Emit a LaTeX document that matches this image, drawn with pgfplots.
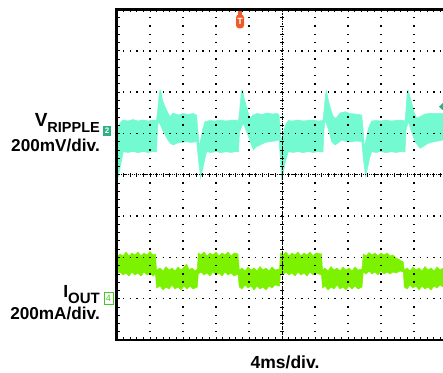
\documentclass[border=0pt]{standalone}
\usepackage{fontspec}
\setmainfont{Liberation Sans}
\usepackage{pgfplots}
\pgfplotsset{compat=1.18}
\usepgfplotslibrary{fillbetween}
\definecolor{vr}{RGB}{115,250,208}
\definecolor{io}{RGB}{125,242,0}
\definecolor{chtwo}{RGB}{46,176,134}
\definecolor{chfour}{RGB}{70,200,30}
\definecolor{trig}{RGB}{240,90,40}
\begin{document}
\begin{tikzpicture}
\begin{axis}[
  at={(0,0)}, anchor=south west,
  scale only axis, width=326pt, height=330.5pt,
  xmin=117, xmax=443, ymin=9.5, ymax=340, y dir=reverse,
  axis line style={draw=none},
  xtick={150,183,216,249,315,348,381,414},
  ytick={50.81,92.13,133.44,216.06,257.38,298.69},
  xticklabels={}, yticklabels={},
  major tick length=0pt,
  grid=major,
  x grid style={black, line width=1.4pt, dash pattern=on 1.4pt off 6.8625pt, dash phase=0.7pt},
  y grid style={black, line width=1.4pt, dash pattern=on 1.4pt off 5.2pt, dash phase=0.7pt},
  axis on top,
]
% V_RIPPLE upper envelope (screen units)
\addplot[name path=cu, draw=vr, line width=0.5pt] coordinates {
(117,140)(118,128)(120,123)(123,120)(128,121)(133,119.5)(138,121)(143,120)(148,121)(153,120)(156.5,120.5)
(157.5,112)(159,97)(160,90)(161,92)(162.5,100)(165,106.7)(168,113)(170,116.7)(173,113)(178,115)(183,113.5)(188,114.5)(193,113.5)(196.5,115)
(197.5,125)(199.3,146.7)(201,138)(203,128)(205,121.7)(210,120.5)(215,121)(220,120)(225,121)(230,120.5)(235,120)(238.5,121)
(239.5,112)(241,95)(242,90)(243,92)(244.5,100)(246.7,106.7)(248.5,114)(250,118.3)(253,115)(257,113.5)(262,114.5)(267,113)(272,114)(277,113.5)(279,115)
(280,125)(281,141.7)(283,133)(286,124)(288.3,120.5)(293,121)(298,120)(303,121)(308,120.5)(313,120)(318,121)(323,120.5)
(324,110)(325.5,95)(326.5,90.7)(328.3,100)(331,110)(333.3,116.7)(336,118.3)(340,113)(345,111.7)(350,113.5)(355,114)(361.7,115)
(363,128)(364.3,146.7)(366,140)(368.5,128)(371.7,121)(376,120.5)(381,121)(386,120)(391,121)(396,120.5)(401,120)(405,121)
(406,110)(407,95)(408,90)(409.5,95)(411.7,103.3)(414,112)(416.7,118.3)(420,116.7)(425,114)(431.7,113.3)(437,113.5)(443,113.3)
};
% V_RIPPLE lower envelope
\addplot[name path=cl, draw=vr, line width=0.5pt] coordinates {
(117,185)(118,178)(120,168)(122,158)(123.3,151.7)(128,152.5)(133,151.5)(138,152.7)(143,151.5)(148,152.5)(153,151.7)(156.5,152)
(157.5,130)(158.3,122)(160,124)(163,131)(166.7,138)(170,143)(173.3,145)(176.7,143.3)(181,142.5)(186.7,141.7)(191,142.5)(196.7,141.7)
(198.5,160)(200.7,178.3)(202,172)(203.3,166.7)(205,158)(206.7,151.7)(211,152.5)(216,151.5)(221,152.7)(226,151.7)(231,152.5)(236,151.5)(238.5,152)
(239.5,132)(243.3,123.3)(246,130)(249,138)(253.3,150)(256,147)(260,145)(265,142.5)(270,141.7)(275,141)(279,140)
(280.5,160)(281.7,180)(283,175)(285,163.3)(288.3,151.7)(293,152.5)(298,151.5)(303,152.7)(308,151.5)(313,152.5)(318,151.7)(323,152)
(324,130)(325,120)(328,128)(331.7,141.7)(335,145)(338,143)(341.7,140)(346,141.5)(351,142)(356,141)(361.7,141.7)
(363.5,160)(365.7,176.7)(367.5,168)(370,156.7)(371.7,151.7)(376,152.5)(381,151.5)(386,152.7)(391,151.7)(396,152.5)(401,151.5)(405,152)
(406,130)(408.3,121.7)(411,130)(415,141.7)(420,148.3)(424,146)(428.3,143.3)(433,142)(438,141)(443,140)
};
\addplot[vr] fill between[of=cu and cl];
% I_OUT upper envelope
\addplot[name path=gu, draw=io, line width=0.5pt] coordinates {
(117,257)(120,254)(123,256)(126,252)(129,256)(132,253)(135,255)(138,252)(141,256)(144,253)(147,255)(150,251.5)(153,255)(155.5,254)
(156.5,270)(160,268)(163,271)(166,266.7)(169,270)(172,268)(175,271)(178,267)(181,270)(184,267)(186.7,264)(189,270)(192,268)(195,271)(197.3,269)
(198.3,253)(201,255)(204,252)(207,256)(210,253)(213,255)(216,252)(219,256)(222,253)(225,255)(228,252)(231,256)(234,253)(238,254)
(239.3,270)(242,268)(245,271)(248,267)(251,270)(254,268)(257,271)(260,266.5)(263,270)(266,268)(269,271)(272,267)(275,270)(279.5,269)
(280.5,253)(283,255)(286,252)(289,256)(292,253)(295,255)(298,252)(301,256)(304,253)(307,255)(310,252)(313,256)(316,253)(321.5,254)
(322.5,270)(325,268)(328,271)(331,266.5)(334,270)(337,268)(340,271)(343,267)(346,270)(349,268)(352,271)(355,267)(358,270)(362,269)
(363.3,254)(366,256)(369,252.5)(372,255)(375,253)(378,256)(381,253)(384,255)(387,253)(390,256)(393,255)(396,258)(400,260)(403.3,262)
(404.3,270)(407,268)(410,271)(413,267)(416,270)(419,268)(422,271)(425,266.5)(428,270)(431,268)(434,271)(437,267)(440,270)(443,268)
};
% I_OUT lower envelope
\addplot[name path=gl, draw=io, line width=0.5pt] coordinates {
(117,274)(120,272)(123,275)(126,273)(129,276)(132,272)(135,275)(138,273)(141,276)(144,272)(147,275)(150,273)(153,276)(155.5,274)
(156.5,288)(160,286)(163,290)(166,287)(169,289)(172,285)(175,289)(178,287)(181,290)(184,286)(187,289)(190,286)(193,289)(197.3,287)
(198.3,274)(201,272)(204,275)(207,273)(210,276)(213,272)(216,275)(219,273)(222,276)(225,272)(228,275)(231,273)(234,276)(238,274)
(239.3,287)(242,289)(245,285)(248,288)(251,286)(254,290)(257,286)(260,289)(263,287)(266,290)(269,286)(272,288)(275,285)(279.5,286)
(280.5,273)(283,275)(286,272)(289,275)(292,273)(295,276)(298,272)(301,275)(304,273)(307,276)(310,272)(313,275)(316,273)(321.5,275)
(322.5,288)(325,286)(328,290)(331,287)(334,289)(337,285)(340,289)(343,287)(346,290)(349,286)(352,289)(355,286)(358,289)(362,287)
(363.3,272)(366,274)(369,271)(372,274)(375,272)(378,275)(381,271)(384,274)(387,272)(390,274)(393,272)(396,273)(400,271)(403.3,272)
(404.3,287)(407,289)(410,285)(413,288)(416,286)(419,290)(422,286)(425,289)(428,287)(431,290)(434,286)(437,288)(440,285)(443,287)
};
\addplot[io] fill between[of=gu and gl];
\end{axis}
% centre cross lines with fine ticks
\draw[black, line width=1pt, dash pattern=on 1.6pt off 0.9pt] (165pt,0pt) -- (165pt,330.5pt);
\draw[black, line width=1pt, dash pattern=on 1.2pt off 0.9pt] (0pt,165.25pt) -- (326pt,165.25pt);
\foreach \i in {1,...,39} {
  \draw[black, line width=0.8pt] (163pt,\i*8.2625pt) -- ++(4pt,0pt);
  \draw[black, line width=0.8pt] (0pt,\i*8.2625pt) -- ++(3pt,0pt);
}
\foreach \i in {1,...,49} {
  \draw[black, line width=0.8pt] (\i*6.6pt,163.25pt) -- ++(0pt,4pt);
  \draw[black, line width=0.8pt] (\i*6.6pt,330.5pt) -- ++(0pt,-3pt);
  \draw[black, line width=0.8pt] (\i*6.6pt,0pt) -- ++(0pt,3pt);
}
% frame
\draw[black, line width=2.8pt] (326pt,330.5pt) -- (-0.5pt,330.5pt) -- (-0.5pt,0pt) -- (326pt,0pt);
% trigger marker
\fill[trig] (121pt,324pt) rectangle (125pt,329.3pt);
\fill[trig, rounded corners=3pt] (119pt,311.7pt) rectangle (127pt,325.5pt);
\node[text=white, inner sep=0pt, font=\fontsize{9}{9}\selectfont\bfseries] at (123pt,318.5pt) {T};
% channel 2 level marker at right edge
\fill[chtwo] (326pt,237pt) -- (322pt,233.3pt) -- (326pt,229.6pt) -- cycle;
% labels
\node[anchor=base east, inner sep=0pt] at (-17pt,213.3pt)
  {\fontsize{19}{19}\selectfont\bfseries V\raisebox{-6pt}{\fontsize{14.5}{14.5}\selectfont RIPPLE}};
\node[anchor=base east, inner sep=0pt] at (-17pt,188pt)
  {\fontsize{17.2}{17.2}\selectfont\bfseries 200mV/div.};
\node[fill=chtwo, text=white, inner sep=0pt, minimum width=8pt, minimum height=10pt,
  font=\fontsize{8}{8}\selectfont\bfseries] at (-10pt,209pt) {2};
\node[anchor=base east, inner sep=0pt] at (-17pt,43pt)
  {\fontsize{17.5}{17.5}\selectfont\bfseries I\raisebox{-6pt}{\fontsize{15}{15}\selectfont OUT}};
\node[draw=chfour, line width=0.8pt, text=chfour, fill=white, inner sep=0pt,
  minimum width=9pt, minimum height=12pt, font=\fontsize{9}{9}\selectfont] at (-8.5pt,41.5pt) {4};
\node[anchor=base east, inner sep=0pt] at (-17pt,21pt)
  {\fontsize{17.2}{17.2}\selectfont\bfseries 200mA/div.};
\node[anchor=base, inner sep=0pt] at (168pt,-28.3pt)
  {\fontsize{17.5}{17.5}\selectfont\bfseries 4ms/div.};
\pgfresetboundingbox
\path[use as bounding box] (-117pt,-32pt) rectangle (326pt,340pt);
\end{tikzpicture}
\end{document}
